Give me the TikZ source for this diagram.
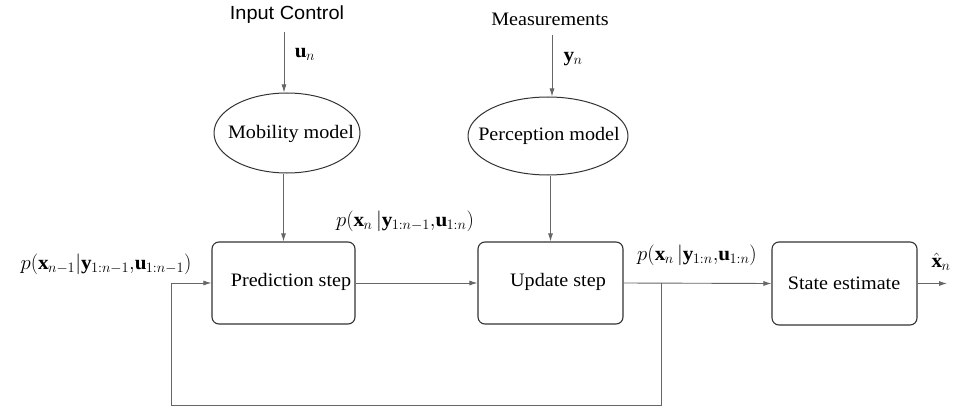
\documentclass[tikz,border=0pt]{standalone}
\usepackage{fontspec}
\setmainfont[FakeStretch=1.06]{Liberation Serif}
\newfontfamily\sansfnt[FakeStretch=1.05]{Liberation Sans}
\DeclareMathSizes{20}{20}{15}{11}
\usetikzlibrary{shapes.geometric,arrows.meta}
\begin{document}
\begin{tikzpicture}[x=1pt,y=-1pt,
  txt/.style={inner sep=0pt,font=\fontsize{19}{21}\selectfont},
  mth/.style={inner sep=0pt,font=\fontsize{20}{22}\selectfont},
  box/.style={draw=black!80,line width=1.1pt,rounded corners=7pt,minimum width=143pt,minimum height=82pt,inner sep=0pt},
  ell/.style={draw=black!80,line width=1pt,ellipse,inner sep=0pt},
  conn/.style={draw=black!60,line width=0.9pt},
  arr/.style={conn,-{Latex[length=8pt,width=5pt]}}]
\useasboundingbox (0,0) rectangle (955,409);

% top inputs
\node[txt,font=\fontsize{19}{21}\selectfont\sansfnt] (ic) at (287,15) {Input Control};
\node[txt] (ms) at (550,19) {Measurements};

% models
\node[ell,minimum width=146pt,minimum height=80pt] (mob) at (287,133) {};
\node[txt] (mobt) at (291,134) {Mobility model};
\node[ell,minimum width=160pt,minimum height=78pt] (per) at (548,136) {};
\node[txt] (pert) at (549,136) {Perception model};

% boxes
\node[box] (pred) at (283.5,283) {};
\node[txt] (predt) at (291,282) {Prediction step};
\node[box,minimum width=145pt] (upd) at (550.5,283) {};
\node[txt] (updt) at (558,282) {Update step};
\node[box,minimum width=145pt,minimum height=83pt] (st) at (844.5,283.5) {};
\node[txt] (stt) at (844,283) {State estimate};

% math labels
\node[mth] (un) at (305,54) {$\mathbf{u}_n$};
\node[mth] (yn) at (573,59) {$\mathbf{y}_n$};
\node[mth] (lp0) at (106,264) {$p(\mathbf{x}_{n-1}|\mathbf{y}_{1:n-1}{,}\mathbf{u}_{1:n-1})$};
\node[mth] (lp1) at (405,221) {$p(\mathbf{x}_n\,|\mathbf{y}_{1:n-1}{,}\mathbf{u}_{1:n})$};
\node[mth] (lp2) at (697,255) {$p(\mathbf{x}_n\,|\mathbf{y}_{1:n}{,}\mathbf{u}_{1:n})$};
\node[mth] (xh) at (941,262) {$\hat{\mathbf{x}}_n$};

% connectors
\coordinate (ictop) at (284,32);
\coordinate (mstop) at (552,35);
\draw[arr] (ictop) -- (ictop |- mob.north);
\draw[arr] (mstop) -- (mstop |- per.north);
\draw[arr] (mob.south -| pred.north) -- (pred.north);
\draw[arr] (per.south -| upd.north) -- (upd.north);
\draw[arr] (pred.east) -- (upd.west);
\draw[arr] (upd.east) -- (st.west);
\coordinate (out) at (947,283.5);
\draw[arr] (st.east) -- (out);
\coordinate (fb) at (661,283);
\coordinate (lb) at (171,405);
\draw[arr] (fb) -- (fb |- lb) -- (lb) |- (pred.west);
\end{tikzpicture}
\end{document}
